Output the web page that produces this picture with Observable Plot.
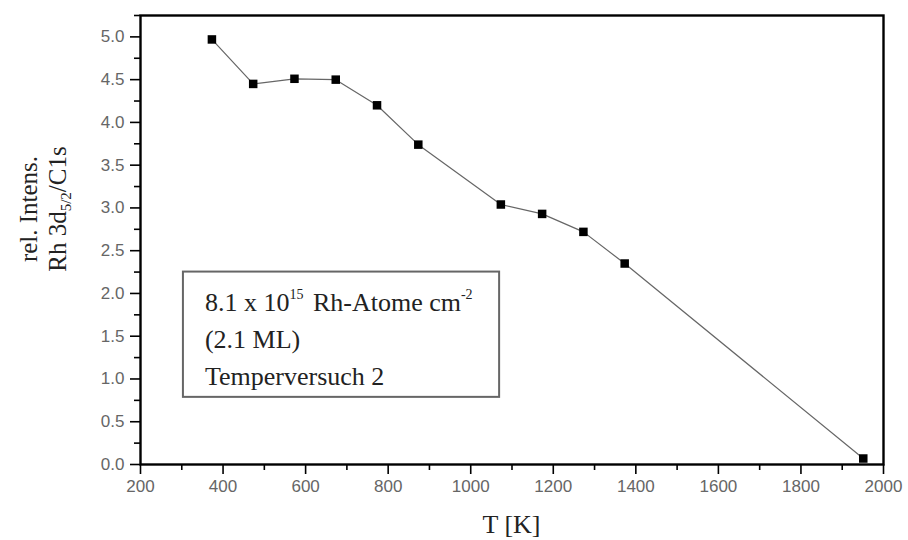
<!DOCTYPE html>
<html>
<head>
<meta charset="utf-8">
<script src="https://cdn.jsdelivr.net/npm/d3@7"></script>
<script src="https://cdn.jsdelivr.net/npm/@observablehq/plot@0.6"></script>
<style>
  html, body { margin: 0; padding: 0; background: #fff; }
  #chart { width: 908px; height: 540px; }
</style>
</head>
<body>
<div id="chart"></div>
<script>
// Data
const temperature = [373, 473, 573, 673, 773, 873, 1073, 1173, 1273, 1373, 1951];
const intensity   = [4.97, 4.45, 4.51, 4.50, 4.20, 3.74, 3.04, 2.93, 2.72, 2.35, 0.07];

const xMajorTicks = [200, 400, 600, 800, 1000, 1200, 1400, 1600, 1800, 2000];
const xMinorTicks = [300, 500, 700, 900, 1100, 1300, 1500, 1700, 1900];
const yMajorTicks = [0, 0.5, 1, 1.5, 2, 2.5, 3, 3.5, 4, 4.5, 5];
const yMinorTicks = [0.25, 0.75, 1.25, 1.75, 2.25, 2.75, 3.25, 3.75, 4.25, 4.75, 5.25];

const xTitle = "T [K]";
const yTitleLine1 = "rel. Intens.";
const boxLines = ["(2.1 ML)", "Temperversuch 2"];
// annotation box, in data units
const boxX = [304, 1070];
const boxY = [0.785, 2.25];

const data = temperature.map((t, i) => ({t, v: intensity[i]}));

const plot = Plot.plot({
  width: 908,
  height: 540,
  marginLeft: 140,
  marginRight: 25,
  marginTop: 15,
  marginBottom: 76,
  style: {fontFamily: "'Liberation Sans', Arial, sans-serif", fontSize: "17px", color: "#666", background: "#fff"},
  x: {domain: [200, 2000]},
  y: {domain: [0, 5.25]},
  marks: [
    Plot.rect([{x1: boxX[0], x2: boxX[1], y1: boxY[0], y2: boxY[1]}], {
      x1: "x1", x2: "x2", y1: "y1", y2: "y2", fill: "none", stroke: "#666", strokeWidth: 2
    }),
    Plot.line(data, {x: "t", y: "v", stroke: "#666", strokeWidth: 1.2}),
    Plot.dot(data, {x: "t", y: "v", symbol: "square", r: 4.8, fill: "#000", stroke: "none"}),
    Plot.axisX({ticks: xMajorTicks, tickSize: 10, tickPadding: 5, tickFormat: d3.format("d"), label: null, stroke: "#000", strokeWidth: 1.6, fill: "#666"}),
    Plot.axisX({ticks: xMinorTicks, tickSize: 6, text: null, label: null, stroke: "#000", strokeWidth: 1.6}),
    Plot.axisY({ticks: yMajorTicks, tickSize: 10, tickPadding: 6, tickFormat: d3.format(".1f"), label: null, stroke: "#000", strokeWidth: 1.6, fill: "#666"}),
    Plot.axisY({ticks: yMinorTicks, tickSize: 6, text: null, label: null, stroke: "#000", strokeWidth: 1.6}),
    Plot.frame({stroke: "#000", strokeWidth: 2.4})
  ]
});

document.getElementById("chart").appendChild(plot);

const svg = d3.select(plot);
svg.selectAll("g[aria-label*='tick label']").style("font-size", "17px")
  .selectAll("text").style("font-size", "17px");

const sx = plot.scale("x").apply;
const sy = plot.scale("y").apply;
const serif = "'Liberation Serif', 'Times New Roman', serif";

// x title
svg.append("text")
  .attr("x", (sx(200) + sx(2000)) / 2)
  .attr("y", 533)
  .attr("text-anchor", "middle")
  .attr("font-family", serif)
  .style("font-size", "26px")
  .attr("fill", "#222")
  .text(xTitle);

// y title (two lines)
const cy = 209;
svg.append("text")
  .attr("transform", `translate(37,${cy}) rotate(-90)`)
  .attr("text-anchor", "middle")
  .attr("font-family", serif)
  .style("font-size", "25px")
  .attr("fill", "#222")
  .text(yTitleLine1);
const yt2 = svg.append("text")
  .attr("transform", `translate(66,${cy}) rotate(-90)`)
  .attr("text-anchor", "middle")
  .attr("font-family", serif)
  .style("font-size", "25px")
  .attr("fill", "#222");
yt2.append("tspan").text("Rh 3d");
yt2.append("tspan").style("font-size", "15px").attr("dy", 5).text("5/2");
yt2.append("tspan").attr("dy", -5).text("/C1s");

// box text
const bx = sx(boxX[0]) + 22;
const by = sy(boxY[1]);
const t1 = svg.append("text")
  .attr("x", bx).attr("y", by + 39)
  .attr("text-anchor", "start")
  .attr("font-family", serif).style("font-size", "26px").attr("fill", "#222");
t1.append("tspan").text("8.1 x 10");
t1.append("tspan").style("font-size", "14px").attr("dy", -12).text("15");
t1.append("tspan").attr("dy", 12).attr("dx", 3).text(" Rh-Atome cm");
t1.append("tspan").style("font-size", "14px").attr("dy", -12).text("-2");
boxLines.forEach((s, i) => {
  svg.append("text")
    .attr("x", bx).attr("y", by + 39 + 37 * (i + 1))
    .attr("text-anchor", "start")
    .attr("font-family", serif).style("font-size", "26px").attr("fill", "#222")
    .text(s);
});
</script>
</body>
</html>
